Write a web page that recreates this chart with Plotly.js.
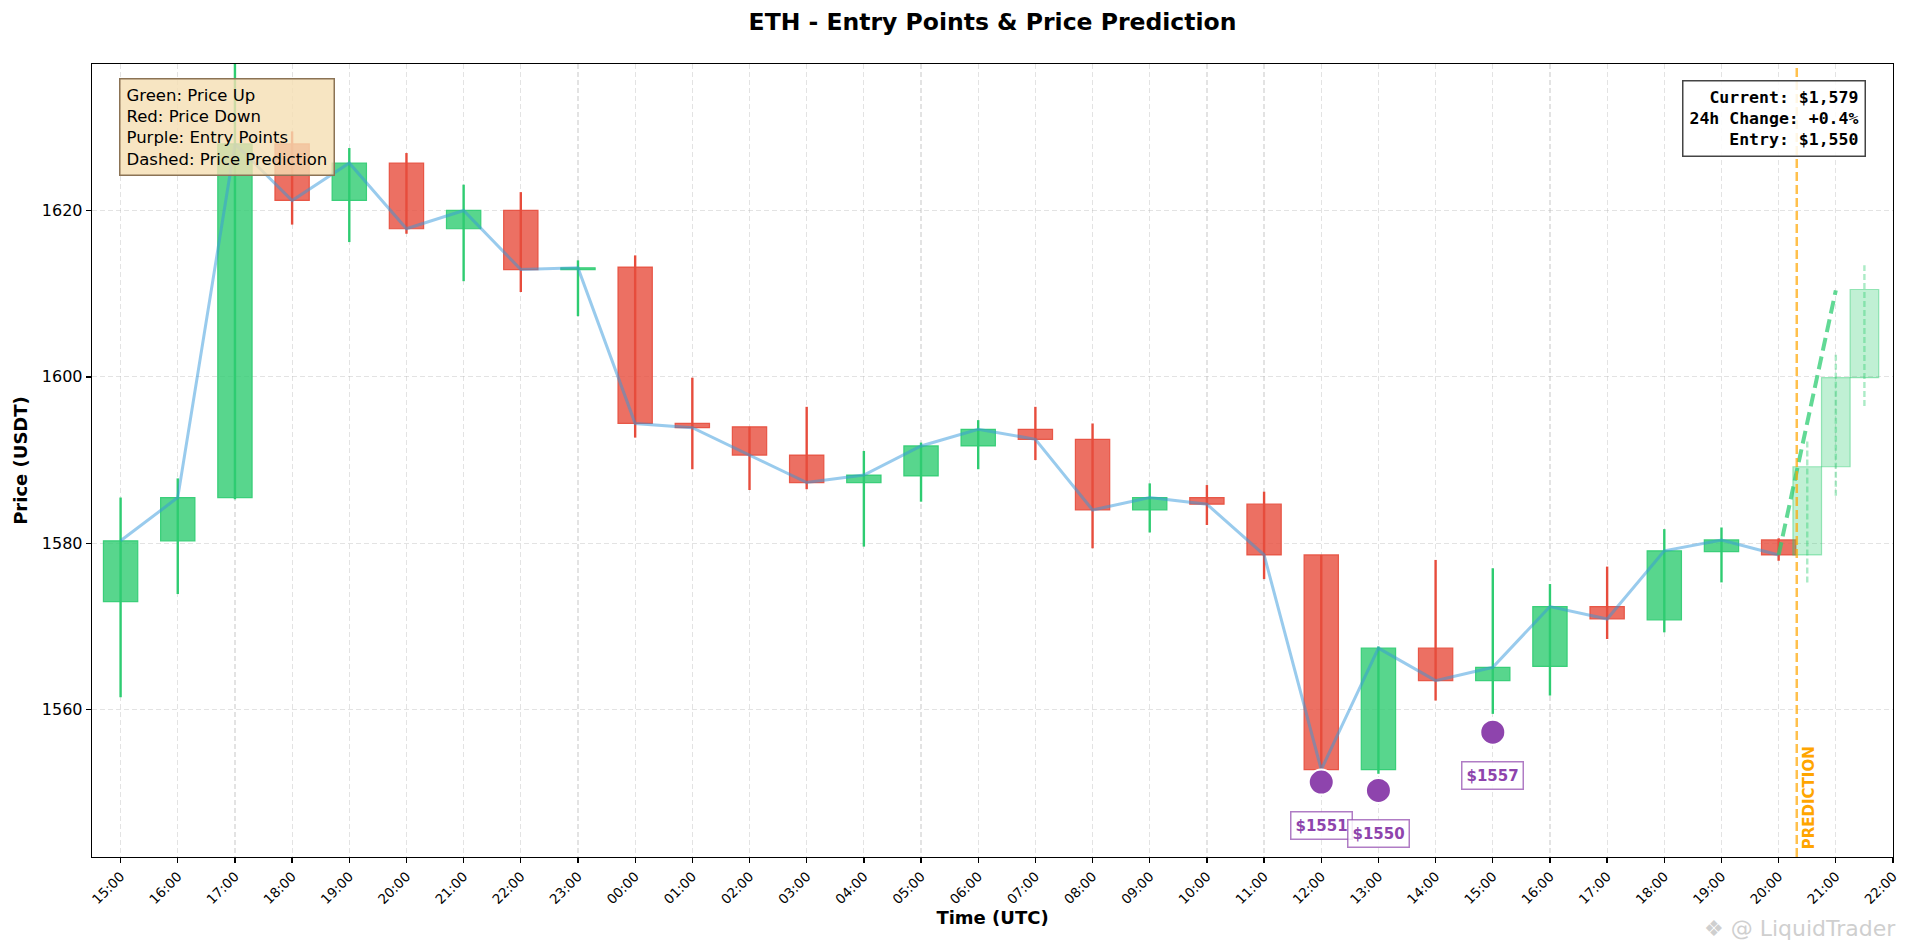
<!DOCTYPE html>
<html>
<head>
<meta charset="utf-8">
<script src="https://cdn.plot.ly/plotly-3.0.1.min.js"></script>
<style>
  body { margin: 0; background: #fff; }
  #graph { width: 1905px; height: 947px; }
</style>
</head>
<body>
<div id="graph"></div>
<script>
// ETH hourly candles with entry points and a short price prediction.

const times = [
  "2024-01-01 15:00", "2024-01-01 16:00", "2024-01-01 17:00", "2024-01-01 18:00",
  "2024-01-01 19:00", "2024-01-01 20:00", "2024-01-01 21:00", "2024-01-01 22:00",
  "2024-01-01 23:00", "2024-01-02 00:00", "2024-01-02 01:00", "2024-01-02 02:00",
  "2024-01-02 03:00", "2024-01-02 04:00", "2024-01-02 05:00", "2024-01-02 06:00",
  "2024-01-02 07:00", "2024-01-02 08:00", "2024-01-02 09:00", "2024-01-02 10:00",
  "2024-01-02 11:00", "2024-01-02 12:00", "2024-01-02 13:00", "2024-01-02 14:00",
  "2024-01-02 15:00", "2024-01-02 16:00", "2024-01-02 17:00", "2024-01-02 18:00",
  "2024-01-02 19:00", "2024-01-02 20:00",
];
const opens = [
  1573.0, 1580.3, 1585.5, 1628.0, 1621.2, 1625.7, 1617.8, 1620.0, 1612.9, 1613.2,
  1594.4, 1594.0, 1590.6, 1587.3, 1588.1, 1591.7, 1593.7, 1592.5, 1584.0, 1585.5,
  1584.7, 1578.6, 1552.8, 1567.4, 1563.5, 1565.2, 1572.4, 1570.8, 1579.0, 1580.4,
];
const highs = [
  1585.5, 1587.8, 1641.0, 1629.5, 1627.5, 1626.9, 1623.1, 1622.2, 1614.0, 1614.6,
  1599.9, 1594.0, 1596.4, 1591.1, 1592.1, 1594.8, 1596.4, 1594.4, 1587.2, 1587.0,
  1586.2, 1578.6, 1567.6, 1578.0, 1577.0, 1575.1, 1577.2, 1581.7, 1581.9, 1580.6,
];
const lows = [
  1561.5, 1573.9, 1585.3, 1618.3, 1616.2, 1617.2, 1611.5, 1610.2, 1607.3, 1592.7,
  1588.9, 1586.4, 1586.5, 1579.6, 1585.0, 1588.9, 1590.0, 1579.4, 1581.3, 1582.2,
  1575.7, 1552.6, 1552.3, 1561.1, 1559.5, 1561.7, 1568.5, 1569.3, 1575.3, 1577.9,
];
const closes = [
  1580.3, 1585.5, 1628.0, 1621.2, 1625.7, 1617.8, 1620.0, 1612.9, 1613.1, 1594.4,
  1593.9, 1590.6, 1587.3, 1588.2, 1591.7, 1593.7, 1592.5, 1584.0, 1585.5, 1584.7,
  1578.6, 1552.8, 1567.4, 1563.5, 1565.1, 1572.4, 1570.9, 1579.1, 1580.4, 1578.6,
];

const predTimes = ["2024-01-02 20:30", "2024-01-02 21:00", "2024-01-02 21:30"];
const predOpen = [1578.6, 1589.2, 1599.9];
const predHigh = [1592.5, 1603.0, 1613.4];
const predLow = [1575.3, 1585.7, 1596.5];
const predClose = [1589.2, 1599.9, 1610.5];

const trendTimes = ["2024-01-02 20:00", "2024-01-02 21:00"];
const trendPrices = [1578.6, 1610.4];

const entryTimes = ["2024-01-02 12:00", "2024-01-02 13:00", "2024-01-02 15:00"];
const entryPrices = [1551.3, 1550.3, 1557.3];

const nowTime = "2024-01-02 20:19";
const infoLines = ["Current: $1,579", "24h Change: +0.4%", "Entry: $1,550"];
const legendLines = ["Green: Price Up", "Red: Price Down", "Purple: Entry Points", "Dashed: Price Prediction"];

const GREEN = "46,204,113";
const RED = "231,76,60";
const PURPLE = "#8e44ad";
const HOUR = 3600 * 1000;
const FONT = "DejaVu Sans, Liberation Sans, sans-serif";

function wickTrace(xs, ys, color, dash) {
  return {
    x: xs, y: ys, type: "scatter", mode: "lines",
    line: { color: color, width: 2.4, dash: dash || "solid" },
    hoverinfo: "skip", showlegend: false,
  };
}

// bodies
const bodyBase = opens.map((o, i) => Math.min(o, closes[i]));
const bodyLen = opens.map((o, i) => Math.max(Math.abs(closes[i] - o), 0.15));
const isUp = opens.map((o, i) => closes[i] >= o);

const bodies = {
  x: times, y: bodyLen, base: bodyBase, type: "bar",
  width: times.map(() => 0.6 * HOUR),
  marker: {
    color: isUp.map(u => `rgba(${u ? GREEN : RED},0.8)`),
    line: { color: isUp.map(u => `rgba(${u ? GREEN : RED},0.9)`), width: 1.2 },
  },
  hoverinfo: "skip", showlegend: false,
};

// wicks
const gx = [], gy = [], rx = [], ry = [];
times.forEach((t, i) => {
  const xs = isUp[i] ? gx : rx;
  const ys = isUp[i] ? gy : ry;
  xs.push(t, t, null);
  ys.push(lows[i], highs[i], null);
});

// prediction candles
const predBodies = {
  x: predTimes,
  y: predOpen.map((o, i) => Math.abs(predClose[i] - o)),
  base: predOpen.map((o, i) => Math.min(o, predClose[i])),
  type: "bar",
  width: predTimes.map(() => 0.5 * HOUR),
  marker: {
    color: `rgba(${GREEN},0.3)`,
    line: { color: `rgba(${GREEN},0.45)`, width: 1.2 },
  },
  hoverinfo: "skip", showlegend: false,
};
const px = [], py = [];
predTimes.forEach((t, i) => {
  px.push(t, t, null);
  py.push(predLow[i], predHigh[i], null);
});

const closeLine = {
  x: times, y: closes, type: "scatter", mode: "lines",
  line: { color: "rgba(52,152,219,0.5)", width: 3 },
  hoverinfo: "skip", showlegend: false,
};

const trendLine = {
  x: trendTimes, y: trendPrices, type: "scatter", mode: "lines",
  line: { color: `rgba(${GREEN},0.75)`, width: 4, dash: "13px,6px" },
  hoverinfo: "skip", showlegend: false,
};

const entries = {
  x: entryTimes, y: entryPrices, type: "scatter", mode: "markers",
  marker: { color: PURPLE, size: 25, line: { color: "white", width: 2 } },
  hoverinfo: "skip", showlegend: false,
};

const annotations = [
  {
    xref: "paper", yref: "paper", x: 0.015, y: 0.9825,
    xanchor: "left", yanchor: "top", align: "left", showarrow: false,
    text: legendLines.join("<br>"),
    font: { family: FONT, size: 16.5, color: "black" },
    bgcolor: "rgba(245,222,179,0.8)", bordercolor: "#8b7355",
    borderwidth: 1.5, borderpad: 6,
  },
  {
    xref: "paper", yref: "paper", x: 0.985, y: 0.98,
    xanchor: "right", yanchor: "top", align: "right", showarrow: false,
    text: infoLines.join("<br>"),
    font: { family: "DejaVu Sans Mono, monospace", size: 16.5, color: "black", weight: "bold" },
    bgcolor: "rgba(255,255,255,0.85)", bordercolor: "#444",
    borderwidth: 1.5, borderpad: 6,
  },
  {
    xref: "x", yref: "paper", x: nowTime, y: 0,
    xanchor: "left", yanchor: "bottom", yshift: 6, xshift: 1,
    textangle: -90, showarrow: false, text: "PREDICTION",
    font: { family: FONT, size: 15, color: "#ffa500", weight: "bold" },
  },
  {
    xref: "paper", yref: "paper", x: 1.003, y: -0.09,
    xanchor: "right", yanchor: "middle", showarrow: false,
    text: "❖ @ LiquidTrader",
    font: { family: FONT, size: 22, color: "#cfcfcf" },
  },
];

entryTimes.forEach((t, i) => {
  annotations.push({
    x: t, y: entryPrices[i], xref: "x", yref: "y",
    showarrow: false, yshift: -43,
    text: "$" + Math.round(entryPrices[i]),
    font: { family: FONT, size: 15, color: PURPLE, weight: "bold" },
    bgcolor: "rgba(255,255,255,0.85)", bordercolor: "rgba(142,68,173,0.7)",
    borderwidth: 1.5, borderpad: 4,
  });
});

const gridColor = "rgba(176,176,176,0.35)";

const layout = {
  width: 1905,
  height: 947,
  paper_bgcolor: "white",
  plot_bgcolor: "white",
  font: { family: FONT, color: "black" },
  margin: { l: 92, r: 12, t: 64, b: 90 },
  barmode: "overlay",
  showlegend: false,
  title: {
    text: "ETH - Entry Points & Price Prediction",
    font: { family: FONT, size: 23.5, color: "black", weight: "bold" },
    xref: "paper", x: 0.5, xanchor: "center", y: 1 - 22 / 947, yanchor: "middle",
  },
  xaxis: {
    type: "date",
    range: ["2024-01-01 14:30", "2024-01-02 22:00"],
    tick0: "2024-01-01 15:00",
    dtick: HOUR,
    tickformat: "%H:%M",
    tickangle: -45,
    tickfont: { family: FONT, size: 13.5, color: "black" },
    ticks: "outside", ticklen: 5, tickwidth: 1.3, tickcolor: "black",
    showline: true, mirror: true, linecolor: "black", linewidth: 1.3,
    showgrid: true, gridcolor: gridColor, griddash: "5px,3px", gridwidth: 1.2,
    zeroline: false, automargin: false,
    title: {
      text: "Time (UTC)",
      font: { family: FONT, size: 18, color: "black", weight: "bold" },
      standoff: 4,
    },
  },
  yaxis: {
    range: [1542.3, 1637.6],
    tick0: 1560, dtick: 20,
    tickfont: { family: FONT, size: 16, color: "black" },
    ticks: "outside", ticklen: 5, tickwidth: 1.3, tickcolor: "black",
    showline: true, mirror: true, linecolor: "black", linewidth: 1.3,
    showgrid: true, gridcolor: gridColor, griddash: "5px,3px", gridwidth: 1.2,
    zeroline: false, automargin: false,
    title: {
      text: "Price (USDT)",
      font: { family: FONT, size: 18, color: "black", weight: "bold" },
      standoff: 9,
    },
  },
  shapes: [
    {
      type: "line", xref: "x", yref: "paper",
      x0: nowTime, x1: nowTime, y0: 0, y1: 1,
      line: { color: "rgba(255,165,0,0.7)", width: 2.5, dash: "9px,4px" },
    },
  ],
  annotations: annotations,
};

const data = [
  bodies,
  predBodies,
  wickTrace(gx, gy, `rgb(${GREEN})`),
  wickTrace(rx, ry, `rgb(${RED})`),
  wickTrace(px, py, `rgba(${GREEN},0.4)`, "6px,3px"),
  closeLine,
  trendLine,
  entries,
];

Plotly.newPlot("graph", data, layout, { staticPlot: true });
</script>
</body>
</html>
